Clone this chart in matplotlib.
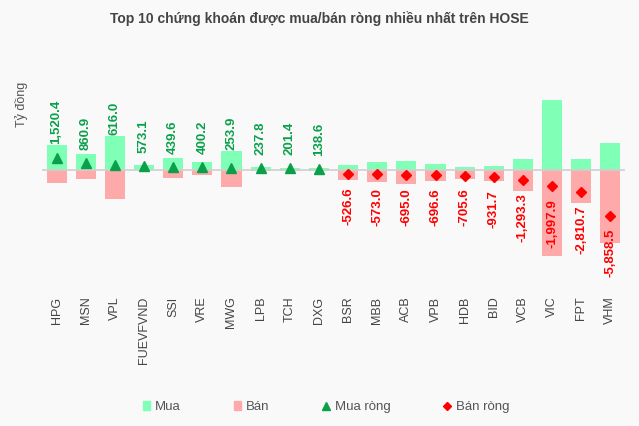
import matplotlib.pyplot as plt
from matplotlib.patches import Patch
from matplotlib.lines import Line2D
import numpy as np

plt.rcParams['font.family'] = ['Liberation Sans', 'DejaVu Sans']

tickers = ['HPG', 'MSN', 'VPL', 'FUEVFVND', 'SSI', 'VRE', 'MWG', 'LPB', 'TCH', 'DXG',
           'BSR', 'MBB', 'ACB', 'VPB', 'HDB', 'BID', 'VCB', 'VIC', 'FPT', 'VHM']
# tỷ đồng
buy = [3150, 2050, 4330, 600, 1500, 1040, 2470, 390, 300, 215,
       700, 980, 1150, 720, 430, 450, 1450, 8980, 1350, 3500]
sell = [1630, 1190, 3714, 27, 1060, 640, 2216, 152, 99, 76,
        1227, 1553, 1845, 1417, 1136, 1382, 2743, 10978, 4161, 9358]
net = [1520.4, 860.9, 616.0, 573.1, 439.6, 400.2, 253.9, 237.8, 201.4, 138.6,
       -526.6, -573.0, -695.0, -696.6, -705.6, -931.7, -1293.3, -1997.9, -2810.7, -5858.5]

c_buy = '#80FFB6'
c_sell = '#FFAAAA'
c_up = '#0AA04A'
c_down = '#FF0000'
bg = '#F9F9F9'
dpi = 100

fig = plt.figure(figsize=(6.39, 4.26), dpi=dpi, facecolor=bg)
ax = fig.add_axes([42 / 639, 1 - 280 / 426, 583 / 639, 190 / 426])
ax.set_facecolor(bg)

x = np.arange(len(tickers))
ax.bar(x, buy, width=0.69, color=c_buy, zorder=2)
ax.bar(x, [-v for v in sell], width=0.69, color=c_sell, zorder=2)
ax.axhline(0, color='#D0D0D0', lw=1.2, zorder=3)

pos = [i for i in x if net[i] > 0]
neg = [i for i in x if net[i] < 0]
ax.plot(pos, [net[i] for i in pos], '^', color=c_up, ms=7.5, ls='none', zorder=4)
ax.plot(neg, [net[i] for i in neg], 'D', color=c_down, ms=5.5, ls='none', zorder=4)

ax.set_xlim(-0.5, len(tickers) - 0.5)
ax.set_ylim(-110 * 128, 80 * 128)

neg_texts = []
for i in x:
    lab = f'{net[i]:,.1f}'
    if net[i] > 0:
        y = max(buy[i] + 128, net[i] + 13 * 128)
        ax.text(i, y, lab, rotation=90, ha='center', va='bottom', color=c_up,
                fontsize=9.5, fontweight='bold', zorder=5)
    else:
        t = ax.annotate(lab, (i, net[i]), xytext=(0, -9.5), textcoords='offset points',
                        rotation=90, ha='center', va='top', color=c_down,
                        fontsize=9.5, fontweight='bold', zorder=5)
        neg_texts.append(t)

ax.set_xticks(x)
ax.set_xticklabels(tickers, rotation=90, fontsize=9, color='#444444')
ax.tick_params(axis='x', length=0, pad=12)
ax.set_yticks([])
for s in ax.spines.values():
    s.set_visible(False)

fig.text(0.5, 1 - 19 / 426, 'Top 10 chứng khoán được mua/bán ròng nhiều nhất trên HOSE',
         ha='center', va='center', fontsize=10, fontweight='bold', color='#444444')
fig.text(21 / 639, 1 - 104 / 426, 'Tỷ đồng', rotation=90, ha='center', va='center',
         fontsize=9, color='#555555')

handles = [Patch(color=c_buy), Patch(color=c_sell),
           Line2D([], [], marker='^', color=c_up, ls='none', ms=6),
           Line2D([], [], marker='D', color=c_down, ls='none', ms=4.5)]
fig.legend(handles, ['Mua', 'Bán', 'Mua ròng', 'Bán ròng'], loc='center',
           bbox_to_anchor=(326 / 639, 1 - 407 / 426), ncol=4, frameon=False,
           fontsize=9.5, labelcolor='#555555', handlelength=0.6, handleheight=0.6,
           handletextpad=0.35, columnspacing=4.0)

# keep negative labels inside the plot area
fig.canvas.draw()
ab = ax.get_window_extent()
for t in neg_texts:
    bb = t.get_window_extent()
    if bb.y0 < ab.y0 + 3:
        dy = (ab.y0 + 3 - bb.y0) * 72 / dpi
        t.xyann = (0, t.xyann[1] + dy)

fig.savefig('out.png', dpi=dpi, facecolor=bg)
